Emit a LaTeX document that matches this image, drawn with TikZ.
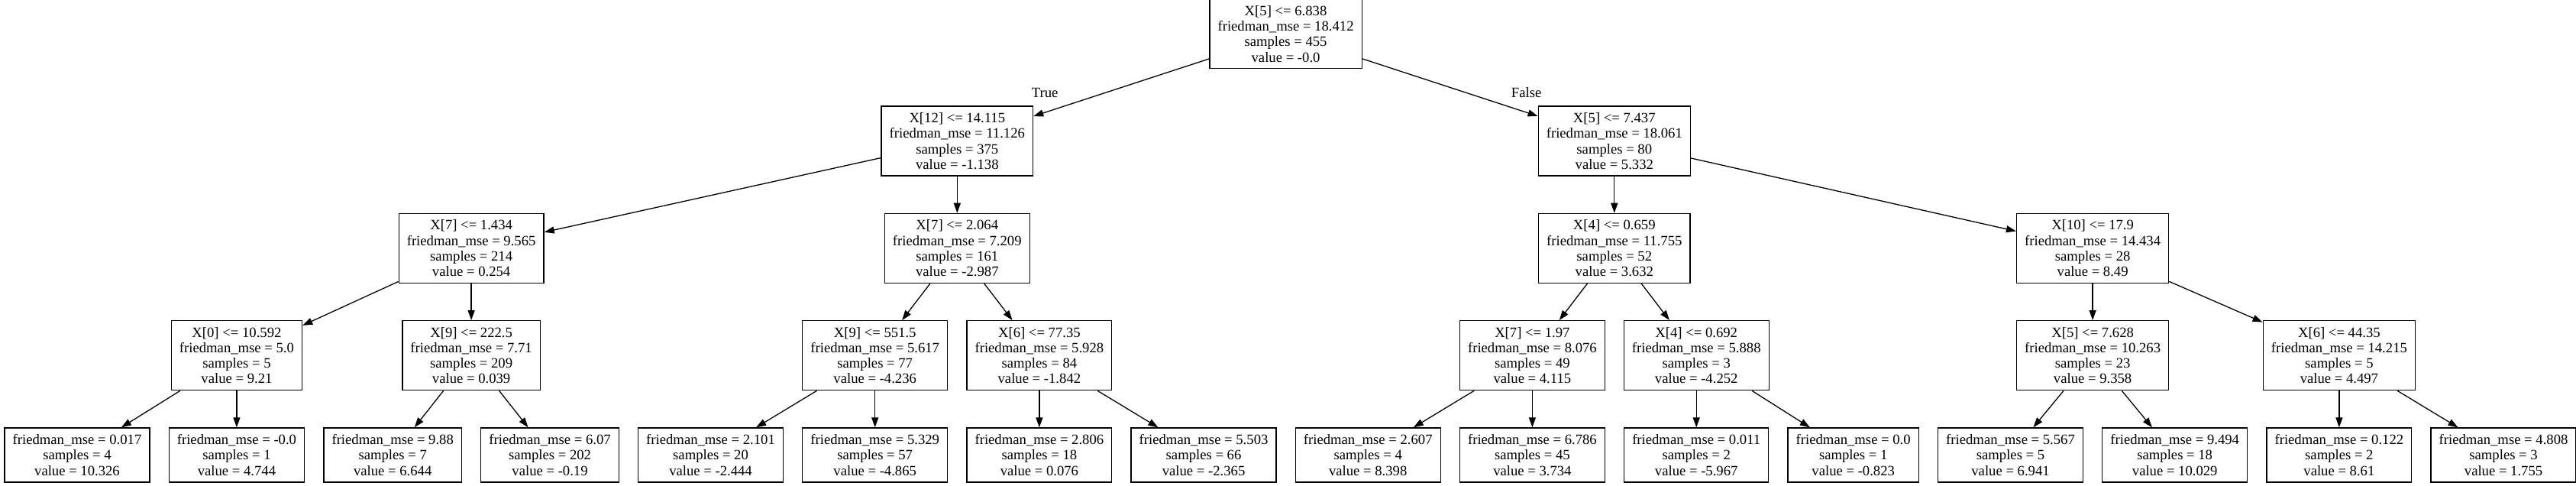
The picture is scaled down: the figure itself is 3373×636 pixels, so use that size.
\documentclass[tikz,border=0pt]{standalone}
\usepackage{fontspec}
\setmainfont{Liberation Serif}
\usetikzlibrary{positioning}
\usetikzlibrary{calc}
\usetikzlibrary{arrows.meta}

\begin{document}
\begin{tikzpicture}[x=1pt, y=1pt,
                node distance=48pt and 24pt,
                >={Triangle[length=13pt, width=9pt]},
                treenode/.style={rectangle, draw=black, line width=1.3pt, align=center, inner xsep=10.6pt, inner ysep=0pt, font=\fontsize{18.67pt}{20.3pt}\selectfont},
                splitnode/.style={treenode, minimum height=91pt},
                leafnode/.style={treenode, minimum height=71pt},
                edgelabel/.style={inner sep=0pt, font=\fontsize{18.67pt}{20.3pt}\selectfont},
                arrowline/.style={->, line width=1.3pt},
                ]
                \useasboundingbox[fill=white] (0,0) rectangle (3373,636);

                % leaves
                \node[leafnode] (L1) at (101,40.5) {friedman\_mse = 0.017\\samples = 4\\value = 10.326};
                \node[leafnode, right=of L1] (L2) {friedman\_mse = -0.0\\samples = 1\\value = 4.744};
                \node[leafnode, right=of L2] (L3) {friedman\_mse = 9.88\\samples = 7\\value = 6.644};
                \node[leafnode, right=of L3] (L4) {friedman\_mse = 6.07\\samples = 202\\value = -0.19};
                \node[leafnode, right=of L4] (L5) {friedman\_mse = 2.101\\samples = 20\\value = -2.444};
                \node[leafnode, right=of L5] (L6) {friedman\_mse = 5.329\\samples = 57\\value = -4.865};
                \node[leafnode, right=of L6] (L7) {friedman\_mse = 2.806\\samples = 18\\value = 0.076};
                \node[leafnode, right=of L7] (L8) {friedman\_mse = 5.503\\samples = 66\\value = -2.365};
                \node[leafnode, right=of L8] (L9) {friedman\_mse = 2.607\\samples = 4\\value = 8.398};
                \node[leafnode, right=of L9] (L10) {friedman\_mse = 6.786\\samples = 45\\value = 3.734};
                \node[leafnode, right=of L10] (L11) {friedman\_mse = 0.011\\samples = 2\\value = -5.967};
                \node[leafnode, right=of L11] (L12) {friedman\_mse = 0.0\\samples = 1\\value = -0.823};
                \node[leafnode, right=of L12] (L13) {friedman\_mse = 5.567\\samples = 5\\value = 6.941};
                \node[leafnode, right=of L13] (L14) {friedman\_mse = 9.494\\samples = 18\\value = 10.029};
                \node[leafnode, right=of L14] (L15) {friedman\_mse = 0.122\\samples = 2\\value = 8.61};
                \node[leafnode, right=of L15] (L16) {friedman\_mse = 4.808\\samples = 3\\value = 1.755};

                % depth 3
                \coordinate (M34) at ($(L3.north)!0.5!(L4.north)$);
                \coordinate (M1314) at ($(L13.north)!0.5!(L14.north)$);
                \node[splitnode, above=of L2] (TAA) {X[0] <= 10.592\\friedman\_mse = 5.0\\samples = 5\\value = 9.21};
                \node[splitnode, above=of M34] (TAB) {X[9] <= 222.5\\friedman\_mse = 7.71\\samples = 209\\value = 0.039};
                \node[splitnode, above=of L6] (TBA) {X[9] <= 551.5\\friedman\_mse = 5.617\\samples = 77\\value = -4.236};
                \node[splitnode, above=of L7] (TBB) {X[6] <= 77.35\\friedman\_mse = 5.928\\samples = 84\\value = -1.842};
                \node[splitnode, above=of L10] (FAA) {X[7] <= 1.97\\friedman\_mse = 8.076\\samples = 49\\value = 4.115};
                \node[splitnode, above=of L11] (FAB) {X[4] <= 0.692\\friedman\_mse = 5.888\\samples = 3\\value = -4.252};
                \node[splitnode, above=of M1314] (FBA) {X[5] <= 7.628\\friedman\_mse = 10.263\\samples = 23\\value = 9.358};
                \node[splitnode, above=of L15] (FBB) {X[6] <= 44.35\\friedman\_mse = 14.215\\samples = 5\\value = 4.497};

                % depth 2
                \coordinate (MTB) at ($(TBA.north)!0.5!(TBB.north)$);
                \coordinate (MFA) at ($(FAA.north)!0.5!(FAB.north)$);
                \node[splitnode, above=of TAB] (TA) {X[7] <= 1.434\\friedman\_mse = 9.565\\samples = 214\\value = 0.254};
                \node[splitnode, above=of MTB] (TB) {X[7] <= 2.064\\friedman\_mse = 7.209\\samples = 161\\value = -2.987};
                \node[splitnode, above=of MFA] (FA) {X[4] <= 0.659\\friedman\_mse = 11.755\\samples = 52\\value = 3.632};
                \node[splitnode, above=of FBA] (FB) {X[10] <= 17.9\\friedman\_mse = 14.434\\samples = 28\\value = 8.49};

                % depth 1 and root
                \node[splitnode, above=of TB] (T) {X[12] <= 14.115\\friedman\_mse = 11.126\\samples = 375\\value = -1.138};
                \node[splitnode, above=of FA] (F) {X[5] <= 7.437\\friedman\_mse = 18.061\\samples = 80\\value = 5.332};
                \coordinate (MR) at ($(T.north)!0.5!(F.north)$);
                \node[splitnode, above=of MR] (R) {X[5] <= 6.838\\friedman\_mse = 18.412\\samples = 455\\value = -0.0};

                \draw[arrowline] (R) -- node[edgelabel, pos=0.935, above=19pt] {True} (T);
                \draw[arrowline] (R) -- node[edgelabel, pos=0.935, above=19pt] {False} (F);

                \draw[arrowline] (T) -- (TA);
                \draw[arrowline] (T) -- (TB);
                \draw[arrowline] (F) -- (FA);
                \draw[arrowline] (F) -- (FB);

                \draw[arrowline] (TA) -- (TAA);
                \draw[arrowline] (TA) -- (TAB);
                \draw[arrowline] (TB) -- (TBA);
                \draw[arrowline] (TB) -- (TBB);
                \draw[arrowline] (FA) -- (FAA);
                \draw[arrowline] (FA) -- (FAB);
                \draw[arrowline] (FB) -- (FBA);
                \draw[arrowline] (FB) -- (FBB);

                \draw[arrowline] (TAA) -- (L1);
                \draw[arrowline] (TAA) -- (L2);
                \draw[arrowline] (TAB) -- (L3);
                \draw[arrowline] (TAB) -- (L4);
                \draw[arrowline] (TBA) -- (L5);
                \draw[arrowline] (TBA) -- (L6);
                \draw[arrowline] (TBB) -- (L7);
                \draw[arrowline] (TBB) -- (L8);
                \draw[arrowline] (FAA) -- (L9);
                \draw[arrowline] (FAA) -- (L10);
                \draw[arrowline] (FAB) -- (L11);
                \draw[arrowline] (FAB) -- (L12);
                \draw[arrowline] (FBA) -- (L13);
                \draw[arrowline] (FBA) -- (L14);
                \draw[arrowline] (FBB) -- (L15);
                \draw[arrowline] (FBB) -- (L16);
            \end{tikzpicture}
\end{document}
